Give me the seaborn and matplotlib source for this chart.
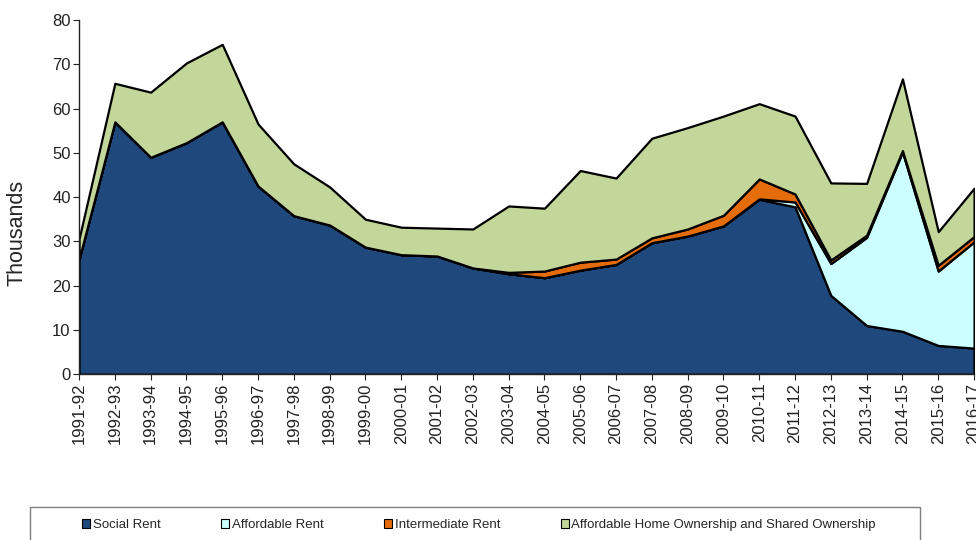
import numpy as np
import pandas as pd
import matplotlib.pyplot as plt
import seaborn as sns
from matplotlib.patches import Patch, Rectangle

years = ["1991-92", "1992-93", "1993-94", "1994-95", "1995-96", "1996-97", "1997-98",
         "1998-99", "1999-00", "2000-01", "2001-02", "2002-03", "2003-04", "2004-05",
         "2005-06", "2006-07", "2007-08", "2008-09", "2009-10", "2010-11", "2011-12",
         "2012-13", "2013-14", "2014-15", "2015-16", "2016-17"]

# thousands of homes
social_rent = [26.0, 57.0, 49.0, 52.3, 57.0, 42.5, 35.8, 33.7, 28.7, 27.0, 26.7, 24.0, 22.7,
               21.8, 23.5, 24.8, 29.7, 31.2, 33.5, 39.5, 37.8, 17.8, 11.0, 9.7, 6.5, 5.9]
affordable_rent = [0, 0, 0, 0, 0, 0, 0, 0, 0, 0, 0, 0, 0,
                   0, 0, 0, 0, 0, 0, 0.1, 1.1, 7.2, 19.9, 40.5, 16.8, 24.0]
intermediate_rent = [0, 0, 0, 0, 0, 0, 0, 0, 0, 0, 0, 0, 0.3,
                     1.5, 1.8, 1.2, 1.1, 1.6, 2.4, 4.5, 1.8, 0.8, 0.5, 0.3, 1.3, 1.2]
home_ownership = [4.6, 8.7, 14.7, 18.0, 17.5, 14.0, 11.7, 8.6, 6.3, 6.2, 6.3, 8.8, 15.0,
                  14.2, 20.7, 18.3, 22.5, 22.9, 22.4, 17.0, 17.6, 17.4, 11.7, 16.2, 7.6, 10.9]

labels = ["Social Rent", "Affordable Rent", "Intermediate Rent",
          "Affordable Home Ownership and Shared Ownership"]
colors = ["#1F487C", "#CCFFFF", "#E46C0A", "#C4D79B"]

df = pd.DataFrame({"year": years, labels[0]: social_rent, labels[1]: affordable_rent,
                   labels[2]: intermediate_rent, labels[3]: home_ownership})

sns.set_style("ticks")
plt.rcParams["font.family"] = ["Liberation Sans", "DejaVu Sans"]

fig = plt.figure(figsize=(9.76, 5.4), dpi=100)
ax = fig.add_axes([0.081, 0.307, 0.917, 0.656])

x = np.arange(len(years))
ax.stackplot(x, df[labels[0]], df[labels[1]], df[labels[2]], df[labels[3]],
             colors=colors, edgecolor="black", linewidth=1.6)

ax.set_xlim(0, len(years) - 1)
ax.set_ylim(0, 80)
ax.set_yticks(range(0, 81, 10))
ax.set_xticks(x)
ax.set_xticklabels(years, rotation=90)
ax.tick_params(axis="both", labelsize=12, colors="#222222", length=4, pad=2)
ax.set_ylabel("Thousands", fontsize=15.5)
ax.yaxis.set_label_coords(-0.058, 0.40)
sns.despine(ax=ax)
for s in ["left", "bottom"]:
    ax.spines[s].set_color("#222222")
    ax.spines[s].set_linewidth(1.0)

# legend box drawn separately so the entries can sit off-centre like the original
fig.patches.append(Rectangle((30 / 976, -0.02), 890 / 976, (540 - 507) / 540 + 0.02,
                             transform=fig.transFigure, facecolor="white",
                             edgecolor="#7F7F7F", linewidth=1.0, zorder=0))
handles = [Patch(facecolor=c, edgecolor="black", linewidth=0.8) for c in colors]
fig.legend(handles, labels, loc="center", bbox_to_anchor=(479 / 976, 1 - 525 / 540),
           ncol=4, fontsize=9.5, frameon=False, columnspacing=4.6,
           handlelength=0.6, handleheight=0.6, handletextpad=0.2)

fig.savefig("out.png", dpi=100)
